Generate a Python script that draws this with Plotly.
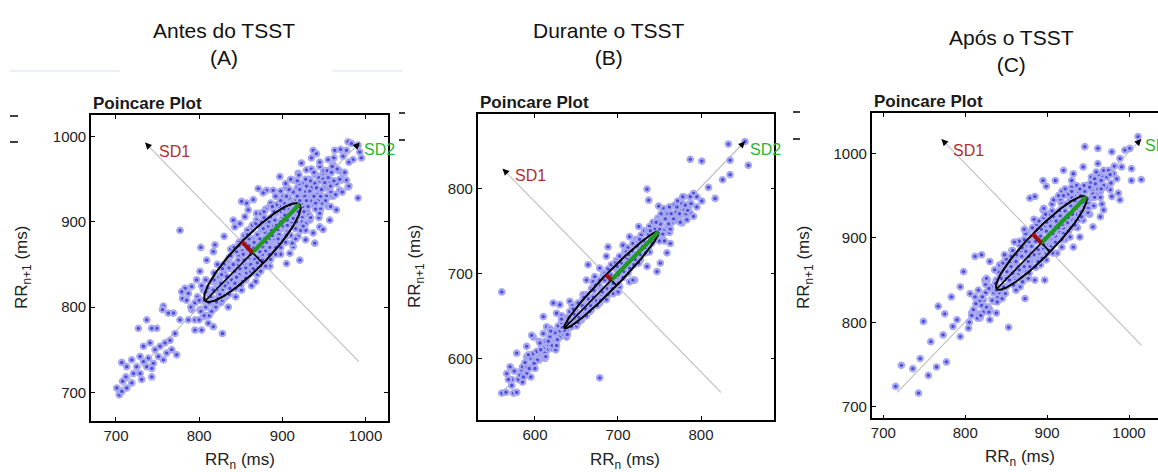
import numpy as np
import plotly.graph_objects as go

W, H = 1158, 472
FONT = "Liberation Sans, Arial, sans-serif"

def pxx(x):
    return x / W

def pxy(y):
    return 1 - y / H

# ---------------- data ----------------
titles = ["Antes do TSST<br>(A)", "Durante o TSST<br>(B)", "Após o TSST<br>(C)"]

A_outer = [(701,705),(704,697),(707,735),(979,994),(983,992),(991,990),(993,982),(995,975),(991,928),(977,984),
           (963,984),(937,984),(941,980),(955,973),(961,967),(967,961),(973,957),(977,949),(979,941),(969,937),
           (957,949),(949,957),(945,965),(929,961),(919,957),(913,949),(905,941),(897,953),(889,937),(881,937),
           (871,939),(877,934),(865,926),(857,922),(851,924),(859,914),(849,898),(841,902),(843,894),(855,906),
           (869,910),(885,918),(901,930),(923,969),(933,949),(943,926),(955,918),(957,902),(945,894),(937,887),
           (928,879),(919,883),(913,871),(921,855),(909,863),(905,851),(939,875),(949,891),(933,902),(925,910),
           (917,898),(965,914),(961,930),(951,941),(971,949),(980,942),(985,973),(973,977),
           (777,890),(802,870),(819,873),(830,883),(833,853),(817,865),(809,855),(801,842),(797,832),(791,824),
           (783,822),(787,816),(779,818),(780,810),(785,808),(791,797),(801,797),(806,789),(811,781),(817,777),
           (828,769),(803,773),(795,773),(787,785),(777,785),(769,793),(757,801),(763,793),(756,797),(749,775),
           (743,775),(737,785),(727,775),(733,754),(741,758),(747,750),(753,754),(759,758),(765,761),(771,769),
           (761,746),(767,750),(773,744),(757,738),(751,742),(745,734),(739,740),(733,736),(729,742),(725,730),
           (719,738),(713,730),(721,722),(729,722),(737,730),(743,718),(731,715),(719,711),(712,718),(708,713),
           (713,705),(707,701),(743,728)]
A_core = [(790,800),(795,785),(798,812),(802,795),(805,820),(808,800),(810,790),(812,815),(815,805),(816,830),
          (818,798),(820,822),(822,810),(824,835),(826,805),(828,820),(830,840),(832,812),(834,828),(835,800),
          (838,845),(840,822),(842,835),(844,812),(845,850),(846,828),(848,860),(850,838),(851,820),(853,848),
          (855,865),(856,832),(858,875),(860,845),(861,858),(863,825),(864,880),(865,850),(866,868),(868,840),
          (870,885),(871,858),(872,872),(874,848),(875,890),(876,862),(878,880),(880,855),(881,898),(882,870),
          (884,888),(885,862),(886,905),(888,878),(889,895),(890,868),(892,910),(893,885),(894,900),(896,875),
          (897,918),(898,892),(900,905),(901,880),(902,922),(904,898),(905,912),(906,888),(908,928),(909,905),
          (910,918),(912,895),(913,935),(914,910),(916,925),(917,900),(918,940),(920,915),(922,930),(924,905),
          (925,945),(926,920),(928,935),(930,912),(932,950),(934,925),(935,940),(938,920),(940,955),(942,932),
          (945,948),(948,925),(950,960),(952,940),(955,952),(958,935),(960,965),
          (812,790),(820,800),(828,808),(836,815),(844,822),(852,830),(860,838),(868,848),(876,855),(884,862),
          (892,870),(900,878),(908,885),(916,892),(924,900),(932,908),(940,915),(948,922),(956,930),(825,830),
          (840,845),(855,850),(870,875),(885,880),(900,895),(915,920),(930,928),(845,865),(860,880),(875,900),
          (890,912),(905,930),(920,945),(850,842),(865,860),(880,875),(895,890),(910,905),(925,918),(835,855),
          (818,840),(803,825),(830,812),(815,795),(800,785),(795,805),(808,832),(822,850),(838,868),(852,878),
          (862,892),(878,905),(893,920),(905,940),(920,955),(935,962),(870,838),(885,848),(898,862),(912,875),
          (928,890),(944,905),(958,918),(965,945),(968,960),(972,935),(962,975),(975,958),(945,970),(935,975),
          (980,970),(970,985),
          (805,808),(810,822),(814,812),(819,830),(823,818),(827,838),(831,825),(836,846),(839,832),(843,842),
          (847,855),(849,845),(852,866),(854,855),(857,840),(859,868),(862,850),(864,870),(867,856),(869,878),
          (873,865),(874,895),(877,870),(879,888),(881,876),(883,895),(886,872),(887,890),(891,880),(893,896),
          (896,885),(899,912),(901,895),(903,908),(906,896),(907,916),(911,900),(912,922),(915,906),(918,930),
          (919,912),(921,938),(923,922),(927,930),(929,942),(931,918),(934,948),(936,932),(939,945),(943,925),
          (944,952),(947,938),(949,950),(953,930),(954,960),(957,945),(959,958),(962,948),(966,962),(969,950),
          (800,808),(806,790),(812,805),(817,820),(821,806),(826,828),(829,814),(833,836),(837,822),(841,850),
          (843,828),(848,838),(853,862),(856,846),(860,872),(862,862),(866,876),(870,852),(873,880),(877,892),
          (880,866),(884,900),(888,884),(891,902),(895,880),(898,900),(902,915),(906,902),(909,920),(913,904),
          (917,918),(921,925),(926,912),(929,925),(933,936),(938,930),(941,940),(946,930),(951,946),(956,940),
          (830,850),(836,858),(842,870),(848,876),(854,884),(858,890),(864,896),(869,902),(874,910),(880,915),
          (886,922),(892,930),(898,936),(904,945),(910,950),(850,826),(856,834),(862,842),(868,830),(874,842),
          (880,848),(886,856),(892,862),(898,870),(904,876),(910,884),(916,880),(922,890),(928,898),(934,905),
          (940,922),(946,915),(952,925),(958,942),(964,932),(938,958),(928,950),(918,948),(908,938),(898,925),
          (888,918),(878,912),(868,898),(858,885),(848,872),(838,860),(828,845),(818,832),(808,818),(825,815),
          (845,835),(865,845),(885,870),(905,884),(925,895),(945,910)]

B_outer = [(560,678),(678,577),(735,799),(737,786),(749,779),(787,834),(801,832),(833,852),(853,855),(835,833),
           (857,827),(826,810),(835,816),(809,801),(817,788),(801,785),(791,794),(779,790),(781,780),(787,771),
           (791,767),(775,773),(767,767),(761,763),(755,776),(763,735),(759,724),(751,712),(747,702),(735,708),
           (727,716),(720,692),(714,690),(725,755),(714,743),(706,733),(688,731),(686,720),(678,706),(664,710),
           (672,696),(662,692),(642,667),(630,663),(622,665),(626,653),(634,645),(650,655),(656,645),(686,669),
           (700,678),(610,649),(614,637),(598,625),(596,627),(610,629),(590,614),(578,606),(570,590),(566,582),
           (560,559),(574,559),(572,575),(584,586),(598,594),(590,602),(604,606),(616,614),(626,622),(638,631),
           (646,639),(654,645),(668,657),(678,665),(694,676),(702,684),(718,692),(690,696),(727,727),(737,731),
           (743,743),(751,759),(759,767),(771,778),(783,776),(795,778),(777,759),(783,763),(795,790)]
B_core = [(580,575),(585,590),(590,582),(595,600),(598,590),(602,608),(605,598),(608,615),(610,602),(613,620),
          (615,610),(618,625),(620,612),(622,632),(625,618),(628,638),(630,625),(632,642),(635,628),(638,648),
          (640,635),(642,655),(645,640),(648,660),(650,645),(652,665),(655,650),(658,670),(660,655),(662,675),
          (665,660),(668,682),(670,665),(672,688),(675,670),(678,692),(680,675),(682,698),(685,680),(688,705),
          (690,685),(692,710),(695,690),(698,715),(700,695),(702,720),(705,700),(708,725),(710,705),(712,730),
          (715,710),(718,735),(720,715),(722,740),(725,720),(728,745),(730,725),(732,750),(735,730),(738,755),
          (740,735),(742,760),(745,740),(748,765),(750,745),(752,770),(755,750),(758,772),(760,755),(762,778),
          (765,760),(768,780),(770,762),(772,785),(775,768),(778,790),(780,775),(782,770),(785,778),(788,782),
          (590,590),(600,598),(610,612),(620,618),(630,632),(640,642),(650,652),(660,662),(670,672),(680,682),
          (690,692),(700,702),(710,712),(720,722),(730,732),(740,742),(750,752),(760,762),(770,772),(600,588),
          (612,600),(625,610),(638,625),(650,638),(662,650),(675,662),(688,675),(700,688),(712,700),(725,712),
          (738,725),(750,738),(762,748),(775,760),(605,620),(618,635),(632,650),(645,662),(658,675),(670,690),
          (684,700),(697,712),(710,725),(724,738),(736,750),(748,762),(760,770),(575,585),(572,568),(568,575),
          (565,560),(578,560),(585,572),(595,578),
          (582,580),(588,595),(593,588),(597,605),(603,598),(607,610),(612,606),(616,620),(621,615),(624,630),
          (627,622),(633,636),(636,632),(641,648),(644,637),(647,652),(653,648),(657,662),(661,658),(664,670),
          (667,662),(671,680),(674,668),(677,686),(681,678),(684,692),(687,682),(691,698),(694,688),(697,706),
          (701,698),(704,712),(707,702),(711,718),(714,706),(717,726),(721,716),(723,732),(727,722),(731,738),
          (733,728),(737,746),(741,736),(744,752),(747,744),(751,758),(754,746),(757,764),(761,758),(764,770),
          (767,764),(771,778),(774,770),(777,782),(781,780),(784,774),(787,790),(763,752),(756,738),(746,760),
          (739,750),(733,724),(726,740),(719,710),(713,722),(706,695),(699,708),(693,682),(686,697),(679,668),
          (673,686),(666,655),(659,672),(652,642),(646,658),(639,628),(632,646),(626,615),(619,632),(613,602),
          (606,618),(599,594),(592,604),(586,578)]

C_outer = [(715,724),(722,749),(736,745),(743,716),(745,757),(749,801),(755,737),(758,777),(765,747),(773,785),
           (777,753),(767,819),(775,810),(785,795),(783,830),(794,842),(798,860),(790,803),(794,783),(804,793),
           (808,811),(806,834),(812,878),(820,880),(830,872),(824,850),(822,826),(818,805),(830,803),(838,811),
           (853,794),(873,828),(885,850),(897,850),(867,842),(843,866),(853,870),(879,947),(885,949),(895,933),
           (918,955),(930,968),(946,1008),(962,1006),(979,1002),(989,994),(995,1004),(1001,1006),(1011,1020),
           (1003,982),(1015,969),(1003,968),(991,984),(981,976),(969,980),(962,988),(954,972),(977,957),(987,953),
           (989,945),(979,949),(965,925),(952,937),(944,921),(936,913),(928,901),(918,889),(912,882),(899,874),
           (932,889),(940,901),(956,913),(969,933),(960,961),(944,984),(932,976),(920,980),(910,968),(899,961),
           (895,968)]
C_core = [(805,800),(810,815),(815,805),(818,825),(822,812),(825,835),(828,818),(832,842),(835,825),(838,850),
          (840,830),(843,855),(845,838),(848,862),(850,842),(853,868),(855,848),(858,875),(860,852),(863,880),
          (865,858),(868,885),(870,862),(873,890),(875,868),(878,895),(880,872),(883,900),(885,878),(888,905),
          (890,882),(893,910),(895,888),(898,915),(900,892),(903,920),(905,898),(908,925),(910,902),(913,930),
          (915,908),(918,935),(920,912),(923,940),(925,918),(928,945),(930,922),(933,950),(935,928),(938,955),
          (940,932),(943,958),(945,938),(948,962),(950,942),(953,965),(955,948),(958,970),(960,952),(963,975),
          (965,955),(968,972),(972,960),(975,980),(978,965),
          (820,820),(835,835),(850,852),(865,866),(880,882),(895,896),(910,912),(925,926),(940,942),(955,956),
          (830,815),(845,828),(860,845),(875,860),(890,875),(905,890),(920,905),(935,920),(950,935),(965,948),
          (825,845),(840,860),(855,870),(870,888),(885,902),(900,918),(915,932),(930,948),(945,962),(960,978),
          (812,830),(827,850),(842,868),(857,885),(872,898),(887,915),(902,928),(917,942),(932,955),(862,838),
          (877,852),(892,868),(907,882),(922,898),(937,912),(952,928),(967,940),
          (808,808),(813,822),(817,810),(821,830),(826,818),(829,840),(833,826),(837,846),(841,835),(844,852),
          (847,842),(851,860),(854,850),(856,866),(859,855),(862,872),(866,862),(869,878),(872,866),(874,884),
          (877,872),(881,890),(884,880),(886,896),(889,886),(892,902),(896,892),(899,908),(901,898),(904,914),
          (907,905),(911,920),(914,912),(916,926),(919,916),(922,932),(926,924),(929,938),(931,928),(934,944),
          (937,935),(941,950),(944,942),(946,955),(949,946),(952,960),(956,952),(959,964),(962,958),(966,968),
          (969,962),(973,972),(977,975),(982,985),(985,970),(957,938),(948,930),(939,922),(929,912),(919,900),
          (909,894),(899,882),(889,872),(879,866),(869,852),(859,844),(849,834),(839,824),(829,812),(819,808),
          (846,870),(856,878),(866,892),(876,906),(886,910),(896,924),(906,932),(916,946),(926,952),(936,962),
          (850,875),(858,885),(866,896),(874,905),(882,912),(890,920),(898,928),(906,940),(914,950),(922,958),
          (930,960),(870,848),(878,858),(886,865),(894,876),(902,885),(910,895),(918,898),(926,908),(934,915),
          (942,925),(950,930),(958,948),(966,958),(940,958),(930,955),(920,950),(908,945),(896,935),(884,922),
          (872,910),(860,895),(848,880),(836,862),(826,852),(816,838),(838,838),(858,858),(878,878),(898,898),
          (918,920),(938,938)]

# Poincare summary statistics read from the ellipses (center, SD1, SD2)
centers = [(864, 864), (692, 692), (893, 894)]
sd1_vals = [18, 9, 15]
sd2_vals = [80, 80, 77]
# gray reference lines (identity line and SD1 axis): start -> arrow tip
diag_lines = [((700, 700), (993, 993)), ((560, 560), (853, 855)), ((717, 717), (1015, 1017))]
sd1_lines = [((992, 736), (735, 993)), ((824, 560), (561, 823)), ((1015, 773), (771, 1017))]
sd1_label_pos = [(749, 983), (574, 815), (783, 1004)]
sd2_label_pos = [(996, 985), (857, 846), (1017, 1010)]

ticks = [[700, 800, 900, 1000], [600, 700, 800], [700, 800, 900, 1000]]
xranges = [[670, 1027], [531, 888.3], [685.8, 1035.4]]
yranges = [[666.3, 1025.4], [527.4, 887], [686.2, 1047.6]]

# ---------------- layout geometry (pixels) ----------------
frames = [(91, 388, 115, 421), (477.7, 774.3, 114.3, 420), (871.7, 1158, 113.3, 418.3)]
title_pos = [(224, 44), (609, 44), (1011, 51)]
pp_pos = [(91, 104), (478, 103), (872, 102)]
xlab_pos = [(240, 461), (625, 461), (1020, 458)]
ylab_pos = [(23, 268), (416, 267), (805, 268)]

fig = go.Figure()
annotations = []
shapes = []
s2 = np.sqrt(2)
HALO = "#a8a8f1"
DOT = "#4a4adb"

for i in range(3):
    xa = "x" if i == 0 else f"x{i+1}"
    ya = "y" if i == 0 else f"y{i+1}"
    pts = [A_outer + A_core, B_outer + B_core, C_outer + C_core][i]
    px_ = [p[0] for p in pts]
    py_ = [p[1] for p in pts]
    (d0, d1) = diag_lines[i]
    (s0, s1_) = sd1_lines[i]
    fig.add_trace(go.Scatter(x=[d0[0], d1[0]], y=[d0[1], d1[1]], mode="lines",
                             line=dict(color="#bdbdbd", width=1.1), xaxis=xa, yaxis=ya, hoverinfo="skip"))
    fig.add_trace(go.Scatter(x=[s0[0], s1_[0]], y=[s0[1], s1_[1]], mode="lines",
                             line=dict(color="#bdbdbd", width=1.1), xaxis=xa, yaxis=ya, hoverinfo="skip"))
    # each point: dark centre with a light halo (outline), drawn in order
    fig.add_trace(go.Scatter(x=px_, y=py_, mode="markers",
                             marker=dict(color=DOT, size=5.5, line=dict(width=2.2, color=HALO)),
                             xaxis=xa, yaxis=ya, hoverinfo="skip"))
    cx, cy = centers[i]
    a, b = sd2_vals[i], sd1_vals[i]
    t = np.linspace(0, 2 * np.pi, 240)
    u, v = a * np.cos(t), b * np.sin(t)
    ex = cx + (u - v) / s2
    ey = cy + (u + v) / s2
    fig.add_trace(go.Scatter(x=ex, y=ey, mode="lines", line=dict(color="black", width=2),
                             xaxis=xa, yaxis=ya, hoverinfo="skip"))
    fig.add_trace(go.Scatter(x=[cx - a / s2, cx + a / s2], y=[cy - a / s2, cy + a / s2], mode="lines",
                             line=dict(color="black", width=1.6), xaxis=xa, yaxis=ya, hoverinfo="skip"))
    fig.add_trace(go.Scatter(x=[cx - b / s2, cx + b / s2], y=[cy + b / s2, cy - b / s2], mode="lines",
                             line=dict(color="black", width=1.6), xaxis=xa, yaxis=ya, hoverinfo="skip"))
    fig.add_trace(go.Scatter(x=[cx, cx + a / s2], y=[cy, cy + a / s2], mode="lines",
                             line=dict(color="#1f9a1f", width=4.2), xaxis=xa, yaxis=ya, hoverinfo="skip"))
    fig.add_trace(go.Scatter(x=[cx, cx - b / s2], y=[cy, cy + b / s2], mode="lines",
                             line=dict(color="#a01010", width=4.2), xaxis=xa, yaxis=ya, hoverinfo="skip"))

    for (st, tip) in [(d0, d1), (s0, s1_)]:
        dx, dy = tip[0] - st[0], tip[1] - st[1]
        L = np.hypot(dx, dy)
        annotations.append(dict(x=tip[0], y=tip[1], ax=tip[0] - dx / L * 8, ay=tip[1] - dy / L * 8,
                                xref=xa, yref=ya, axref=xa, ayref=ya, text="", showarrow=True,
                                arrowhead=2, arrowsize=1.1, arrowwidth=1.2, arrowcolor="black", standoff=0))
    annotations.append(dict(x=sd1_label_pos[i][0], y=sd1_label_pos[i][1], xref=xa, yref=ya, text="SD1",
                            showarrow=False, xanchor="left", yanchor="middle",
                            font=dict(family=FONT, size=16, color="#b03030")))
    annotations.append(dict(x=sd2_label_pos[i][0], y=sd2_label_pos[i][1], xref=xa, yref=ya, text="SD2",
                            showarrow=False, xanchor="left", yanchor="middle",
                            font=dict(family=FONT, size=16, color="#2eb52e")))

    l, r, tp, bt = frames[i]
    fig.layout[f"xaxis{'' if i == 0 else i+1}"] = dict(
        domain=[pxx(l), min(1.0, pxx(r))], range=xranges[i], anchor=ya, tickvals=ticks[i],
        ticks="inside", ticklen=4, tickcolor="black", showline=True, linecolor="black", linewidth=1.6,
        mirror="ticks", showgrid=False, zeroline=False,
        tickfont=dict(family=FONT, size=15, color="#222"))
    fig.layout[f"yaxis{'' if i == 0 else i+1}"] = dict(
        domain=[pxy(bt), pxy(tp)], range=yranges[i], anchor=xa, tickvals=ticks[i],
        ticks="inside", ticklen=4, tickcolor="black", showline=True, linecolor="black", linewidth=1.6,
        mirror=("ticks" if i < 2 else False), showgrid=False, zeroline=False,
        tickfont=dict(family=FONT, size=15, color="#222"))

    annotations.append(dict(x=pxx(title_pos[i][0]), y=pxy(title_pos[i][1]), xref="paper", yref="paper",
                            text=titles[i], showarrow=False, xanchor="center", yanchor="middle",
                            font=dict(family=FONT, size=21, color="#111")))
    annotations.append(dict(x=pxx(pp_pos[i][0]), y=pxy(pp_pos[i][1]), xref="paper", yref="paper",
                            text="<b>Poincare Plot</b>", showarrow=False, xanchor="left", yanchor="middle",
                            font=dict(family=FONT, size=17, color="#1a1a1a")))
    annotations.append(dict(x=pxx(xlab_pos[i][0]), y=pxy(xlab_pos[i][1]), xref="paper", yref="paper",
                            text="RR<sub>n</sub> (ms)", showarrow=False, xanchor="center", yanchor="middle",
                            font=dict(family=FONT, size=17, color="#222")))
    annotations.append(dict(x=pxx(ylab_pos[i][0]), y=pxy(ylab_pos[i][1]), xref="paper", yref="paper",
                            text="RR<sub>n+1</sub> (ms)", showarrow=False, textangle=-90,
                            xanchor="center", yanchor="middle",
                            font=dict(family=FONT, size=17, color="#222")))

for (x0, x1, yy) in [(10, 18, 116), (10, 18, 142), (399, 405, 113), (399, 405, 140), (793, 800, 112), (793, 800, 139)]:
    shapes.append(dict(type="line", xref="paper", yref="paper", x0=pxx(x0), x1=pxx(x1), y0=pxy(yy), y1=pxy(yy),
                       line=dict(color="black", width=1.5)))
for (x0, x1, yy) in [(10, 120, 71), (332, 402, 71)]:
    shapes.append(dict(type="line", xref="paper", yref="paper", x0=pxx(x0), x1=pxx(x1), y0=pxy(yy), y1=pxy(yy),
                       line=dict(color="#e6e8f6", width=1.5)))

fig.update_layout(width=W, height=H, margin=dict(l=0, r=0, t=0, b=0), paper_bgcolor="white",
                  plot_bgcolor="white", showlegend=False, annotations=annotations, shapes=shapes,
                  font=dict(family=FONT))
fig.write_html("out.html", config={"displayModeBar": False},
               post_script="document.body.style.margin='0';document.body.style.overflow='hidden';")
